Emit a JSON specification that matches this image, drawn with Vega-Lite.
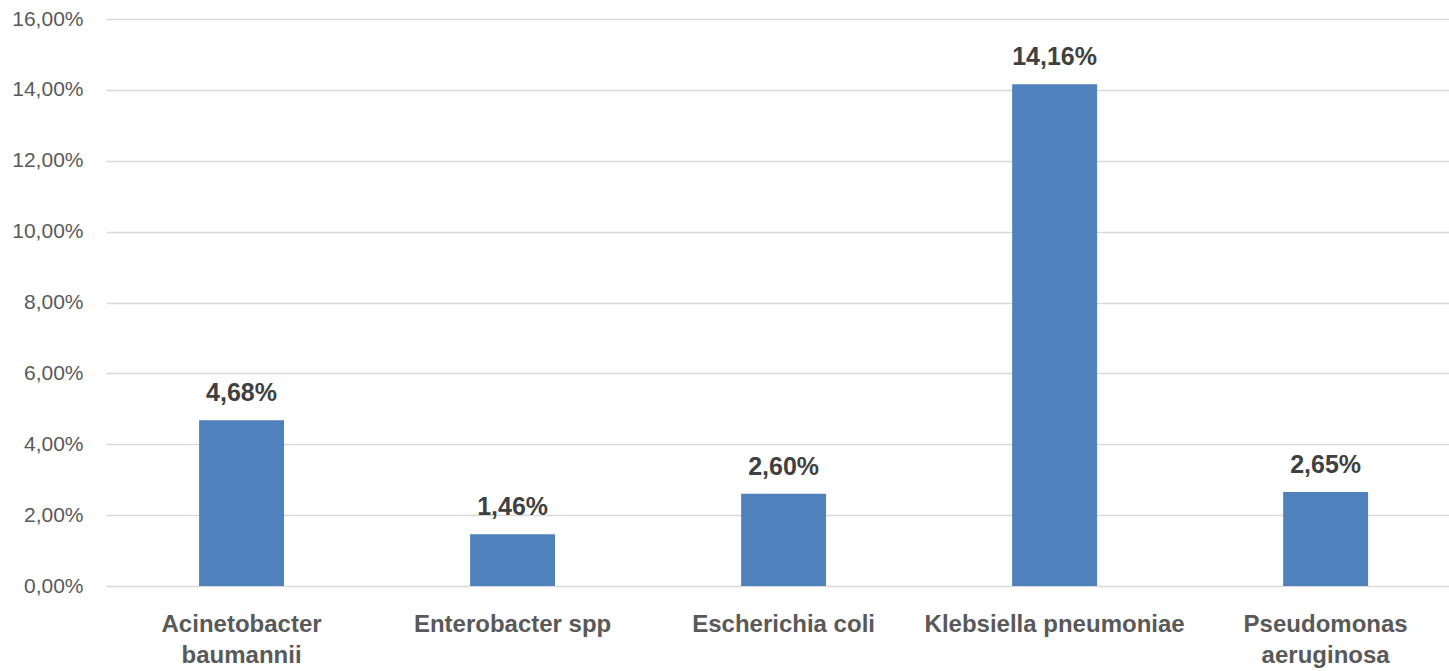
{
  "$schema": "https://vega.github.io/schema/vega-lite/v6.json",
  "autosize": {"type": "none"},
  "padding": {"left": 106, "top": 19, "right": 0, "bottom": 85},
  "width": 1343,
  "height": 567,
  "background": "#ffffff",
  "config": {
    "locale": {"number": {"decimal": ",", "thousands": ".", "grouping": [3], "currency": ["", " €"]}},
    "view": {"stroke": null},
    "font": "Liberation Sans"
  },
  "data": {
    "values": [
      {"organism": "Acinetobacter baumannii", "rate": 0.0468},
      {"organism": "Enterobacter spp", "rate": 0.0146},
      {"organism": "Escherichia coli", "rate": 0.026},
      {"organism": "Klebsiella pneumoniae", "rate": 0.1416},
      {"organism": "Pseudomonas aeruginosa", "rate": 0.0265}
    ]
  },
  "encoding": {
    "x": {
      "field": "organism",
      "type": "nominal",
      "sort": null,
      "scale": {"paddingInner": 0.6866, "paddingOuter": 0.321, "align": 0.535},
      "axis": {
        "title": null,
        "domain": false,
        "ticks": false,
        "labelAngle": 0,
        "labelLimit": 500,
        "labelFont": "Liberation Sans",
        "labelFontSize": 24,
        "labelFontWeight": "bold",
        "labelColor": "#595959",
        "labelPadding": 26,
        "labelLineHeight": 31,
        "labelBaseline": "top",
        "labelExpr": "datum.value == 'Acinetobacter baumannii' ? ['Acinetobacter', 'baumannii'] : datum.value == 'Pseudomonas aeruginosa' ? ['Pseudomonas', 'aeruginosa'] : datum.value"
      }
    },
    "y": {
      "field": "rate",
      "type": "quantitative",
      "scale": {"domain": [0, 0.16], "nice": false},
      "axis": {
        "title": null,
        "format": ".2%",
        "values": [0, 0.02, 0.04, 0.06, 0.08, 0.1, 0.12, 0.14, 0.16],
        "domain": false,
        "ticks": false,
        "grid": true,
        "gridColor": "#d9d9d9",
        "gridWidth": 1.5,
        "labelFont": "Liberation Sans",
        "labelFontSize": 21,
        "labelColor": "#595959",
        "labelPadding": 23
      }
    }
  },
  "layer": [
    {"mark": {"type": "bar", "color": "#4F81BD"}},
    {
      "mark": {"type": "text", "dy": -19, "baseline": "alphabetic", "fontSize": 25, "fontWeight": "bold", "color": "#404040", "font": "Liberation Sans"},
      "encoding": {"text": {"field": "rate", "type": "quantitative", "format": ".2%"}}
    }
  ]
}
